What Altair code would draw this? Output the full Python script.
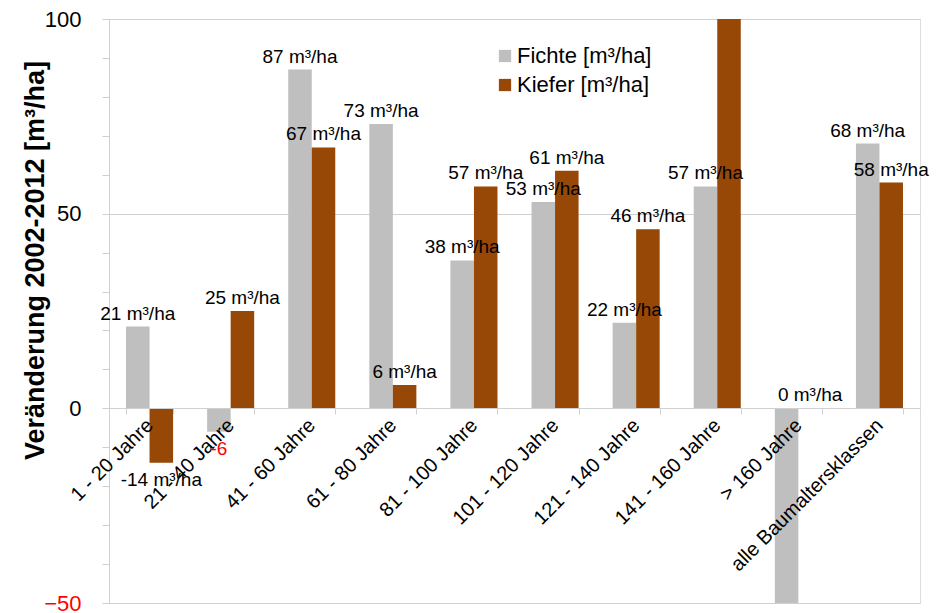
import altair as alt
import pandas as pd

categories = ["1 - 20 Jahre", "21 - 40 Jahre", "41 - 60 Jahre", "61 - 80 Jahre",
              "81 - 100 Jahre", "101 - 120 Jahre", "121 - 140 Jahre",
              "141 - 160 Jahre", "> 160 Jahre", "alle Baumaltersklassen"]
series = ["Fichte [m³/ha]", "Kiefer [m³/ha]"]
fichte = [21, -6, 87, 73, 38, 53, 22, 57, -70, 68]
kiefer = [-14, 25, 67, 6, 57, 61, 46, 110, 0, 58]
# labels of bars that run off the chart are not visible in the original
fichte_labels = ["21 m³/ha", "-6", "87 m³/ha", "73 m³/ha", "38 m³/ha", "53 m³/ha",
                 "22 m³/ha", "57 m³/ha", "", "68 m³/ha"]
kiefer_labels = ["-14 m³/ha", "25 m³/ha", "67 m³/ha", "6 m³/ha", "57 m³/ha", "61 m³/ha",
                 "46 m³/ha", "", "0 m³/ha", "58 m³/ha"]
fichte_label_colors = ["black", "red", "black", "black", "black", "black",
                       "black", "black", "black", "black"]
kiefer_label_colors = ["black"] * 10
bar_colors = ["#BFBFBF", "#974706"]

rows = []
for i, c in enumerate(categories):
    rows.append(dict(cat=c, ser=series[0], val=fichte[i], lab=fichte_labels[i], col=fichte_label_colors[i]))
    rows.append(dict(cat=c, ser=series[1], val=kiefer[i], lab=kiefer_labels[i], col=kiefer_label_colors[i]))
df = pd.DataFrame(rows)

FONT = "Liberation Sans"
LINE = "#d0d0d0"

x_enc = alt.X("cat:N", sort=categories,
              scale=alt.Scale(paddingInner=0.42, paddingOuter=0.21),
              axis=alt.Axis(title=None, labelAngle=-45, labelAlign="right",
                            labelBaseline="middle", labelFontSize=20, labelColor="black",
                            offset=-195, tickBand="extent", tickSize=6, tickColor=LINE,
                            domainColor=LINE, labelPadding=8, zindex=1, labelLimit=400,
                            labelOverlap=False))
xoff_enc = alt.XOffset("ser:N", sort=series, scale=alt.Scale(paddingInner=0, paddingOuter=0))
y_enc = alt.Y("val:Q",
              scale=alt.Scale(domain=[-50, 100], nice=False, zero=False),
              axis=alt.Axis(title="Veränderung 2002-2012 [m³/ha]", titleFontSize=27,
                            titleFontWeight="bold", titleColor="black", titleAngle=270,
                            titleX=-66, titleY=241, titleAlign="center",
                            titleBaseline="alphabetic",
                            values=list(range(-50, 101, 10)),
                            labelExpr="datum.value % 50 === 0 ? datum.label : ''",
                            labelFontSize=22,
                            labelColor={"condition": {"test": "datum.value === -50", "value": "red"},
                                        "value": "black"},
                            labelPadding=21, tickSize=7, tickColor=LINE, domainColor=LINE,
                            gridColor=LINE,
                            gridOpacity={"condition": {"test": "datum.value % 50 === 0", "value": 1},
                                         "value": 0},
                            labelOverlap=False))

base = alt.Chart(df).encode(x=x_enc, xOffset=xoff_enc, y=y_enc)

bars = base.mark_bar(clip=True).encode(
    color=alt.Color("ser:N", sort=series,
                    scale=alt.Scale(domain=series, range=bar_colors),
                    legend=alt.Legend(title=None, orient="none", legendX=385, legendY=26,
                                      symbolType="square", symbolSize=150, labelFontSize=22,
                                      labelColor="black", rowPadding=7, labelOffset=1,
                                      padding=0, symbolStrokeWidth=0))
)

text_pos = base.transform_filter("datum.val >= 0").mark_text(
    baseline="alphabetic", dy=-7, fontSize=19
).encode(text="lab:N", color=alt.Color("col:N", scale=None))

text_neg = base.transform_filter("datum.val < 0").mark_text(
    baseline="alphabetic", dy=23, fontSize=19
).encode(text="lab:N", color=alt.Color("col:N", scale=None))

chart = alt.layer(bars, text_pos, text_neg).resolve_scale(color="independent").properties(
    width=811, height=584,
    autosize=alt.AutoSizeParams(type="none"),
    padding={"left": 101, "top": 11, "right": 20, "bottom": 9},
).configure_view(stroke=LINE).configure(font=FONT, background="white")

chart.save("out.html", embed_options={"renderer": "svg", "actions": False})
